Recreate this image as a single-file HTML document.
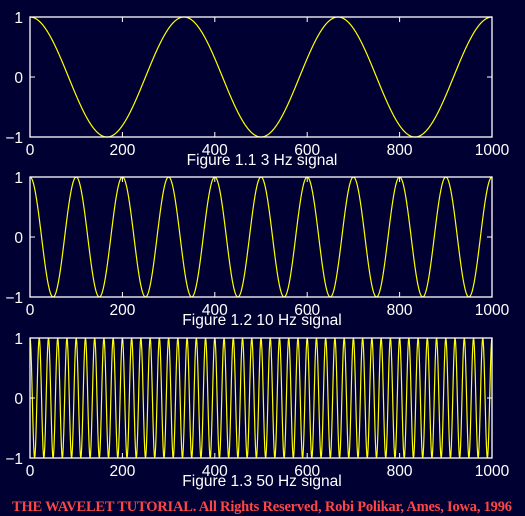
<!DOCTYPE html>
<html><head><meta charset="utf-8"><style>
body{margin:0;background:#000033;}
svg{display:block;}
text{font-family:"Liberation Sans",sans-serif;fill:#fff;}
</style></head><body>
<svg id="c" width="525" height="516">
<rect width="525" height="516" fill="#000033"/>
<text x="262" y="511" text-anchor="middle" textLength="500" style="font-family:'Liberation Serif',serif;font-weight:bold;font-size:14.5px;fill:#ff4646">THE WAVELET TUTORIAL. All Rights Reserved, Robi Polikar, Ames, Iowa, 1996</text>
</svg>
<script>
const frequencies = [3, 10, 50];
const titles = ["Figure 1.1 3 Hz signal", "Figure 1.2 10 Hz signal", "Figure 1.3 50 Hz signal"];
const xTicks = [0, 200, 400, 600, 800, 1000];
const yTicks = [-1, 0, 1];
const nSamples = 1000;

const NS = "http://www.w3.org/2000/svg";
const svg = document.getElementById('c');
const X0 = 30, X1 = 492;
const panelTops = [17, 177, 338], PH = 120;
function mk(tag, attrs, parent) {
  const e = document.createElementNS(NS, tag);
  for (const k in attrs) e.setAttribute(k, attrs[k]);
  (parent || svg).appendChild(e);
  return e;
}
frequencies.forEach((f, i) => {
  const top = panelTops[i], bot = top + PH;
  const xs = v => X0 + (v / 1000) * (X1 - X0);
  const ys = v => bot - (v + 1) / 2 * PH;
  const g = mk('g', {});
  
  
  let pts = [];
  for (let n = 0; n <= nSamples; n++) {
    const t = n / nSamples;
    pts.push(xs(n).toFixed(2) + ',' + ys(Math.cos(2 * Math.PI * f * t)).toFixed(2));
  }
  const line = mk('polyline', {points: pts.join(' '), fill: 'none', stroke: '#ffff00', 'stroke-width': 1.2}, g);
  
  
  const box = mk('rect', {x: X0, y: top, width: X1 - X0, height: PH, fill: 'none', stroke: '#fff', 'stroke-width': 1.3}, g);
  
  
  xTicks.forEach(v => {
    mk('line', {x1: xs(v), x2: xs(v), y1: bot, y2: bot - 5, stroke: '#fff'}, g);
    mk('line', {x1: xs(v), x2: xs(v), y1: top, y2: top + 5, stroke: '#fff'}, g);
    const t = mk('text', {x: xs(v), y: bot + 18, 'text-anchor': 'middle', 'font-size': 15.5}, g);
    t.textContent = v;
    
    
  });
  yTicks.forEach(v => {
    mk('line', {x1: X0, x2: X0 + 5, y1: ys(v), y2: ys(v), stroke: '#fff'}, g);
    mk('line', {x1: X1, x2: X1 - 5, y1: ys(v), y2: ys(v), stroke: '#fff'}, g);
    const t = mk('text', {x: X0 - 7, y: ys(v) + 6, 'text-anchor': 'end', 'font-size': 15.5}, g);
    t.textContent = v < 0 ? '\u2212' + Math.abs(v) : v;
    
    
  });
  const tt = mk('text', {x: 262, y: bot + 28, 'text-anchor': 'middle', 'font-size': 15.5}, g);
  tt.textContent = titles[i];
  
  
});
</script>
</body></html>
